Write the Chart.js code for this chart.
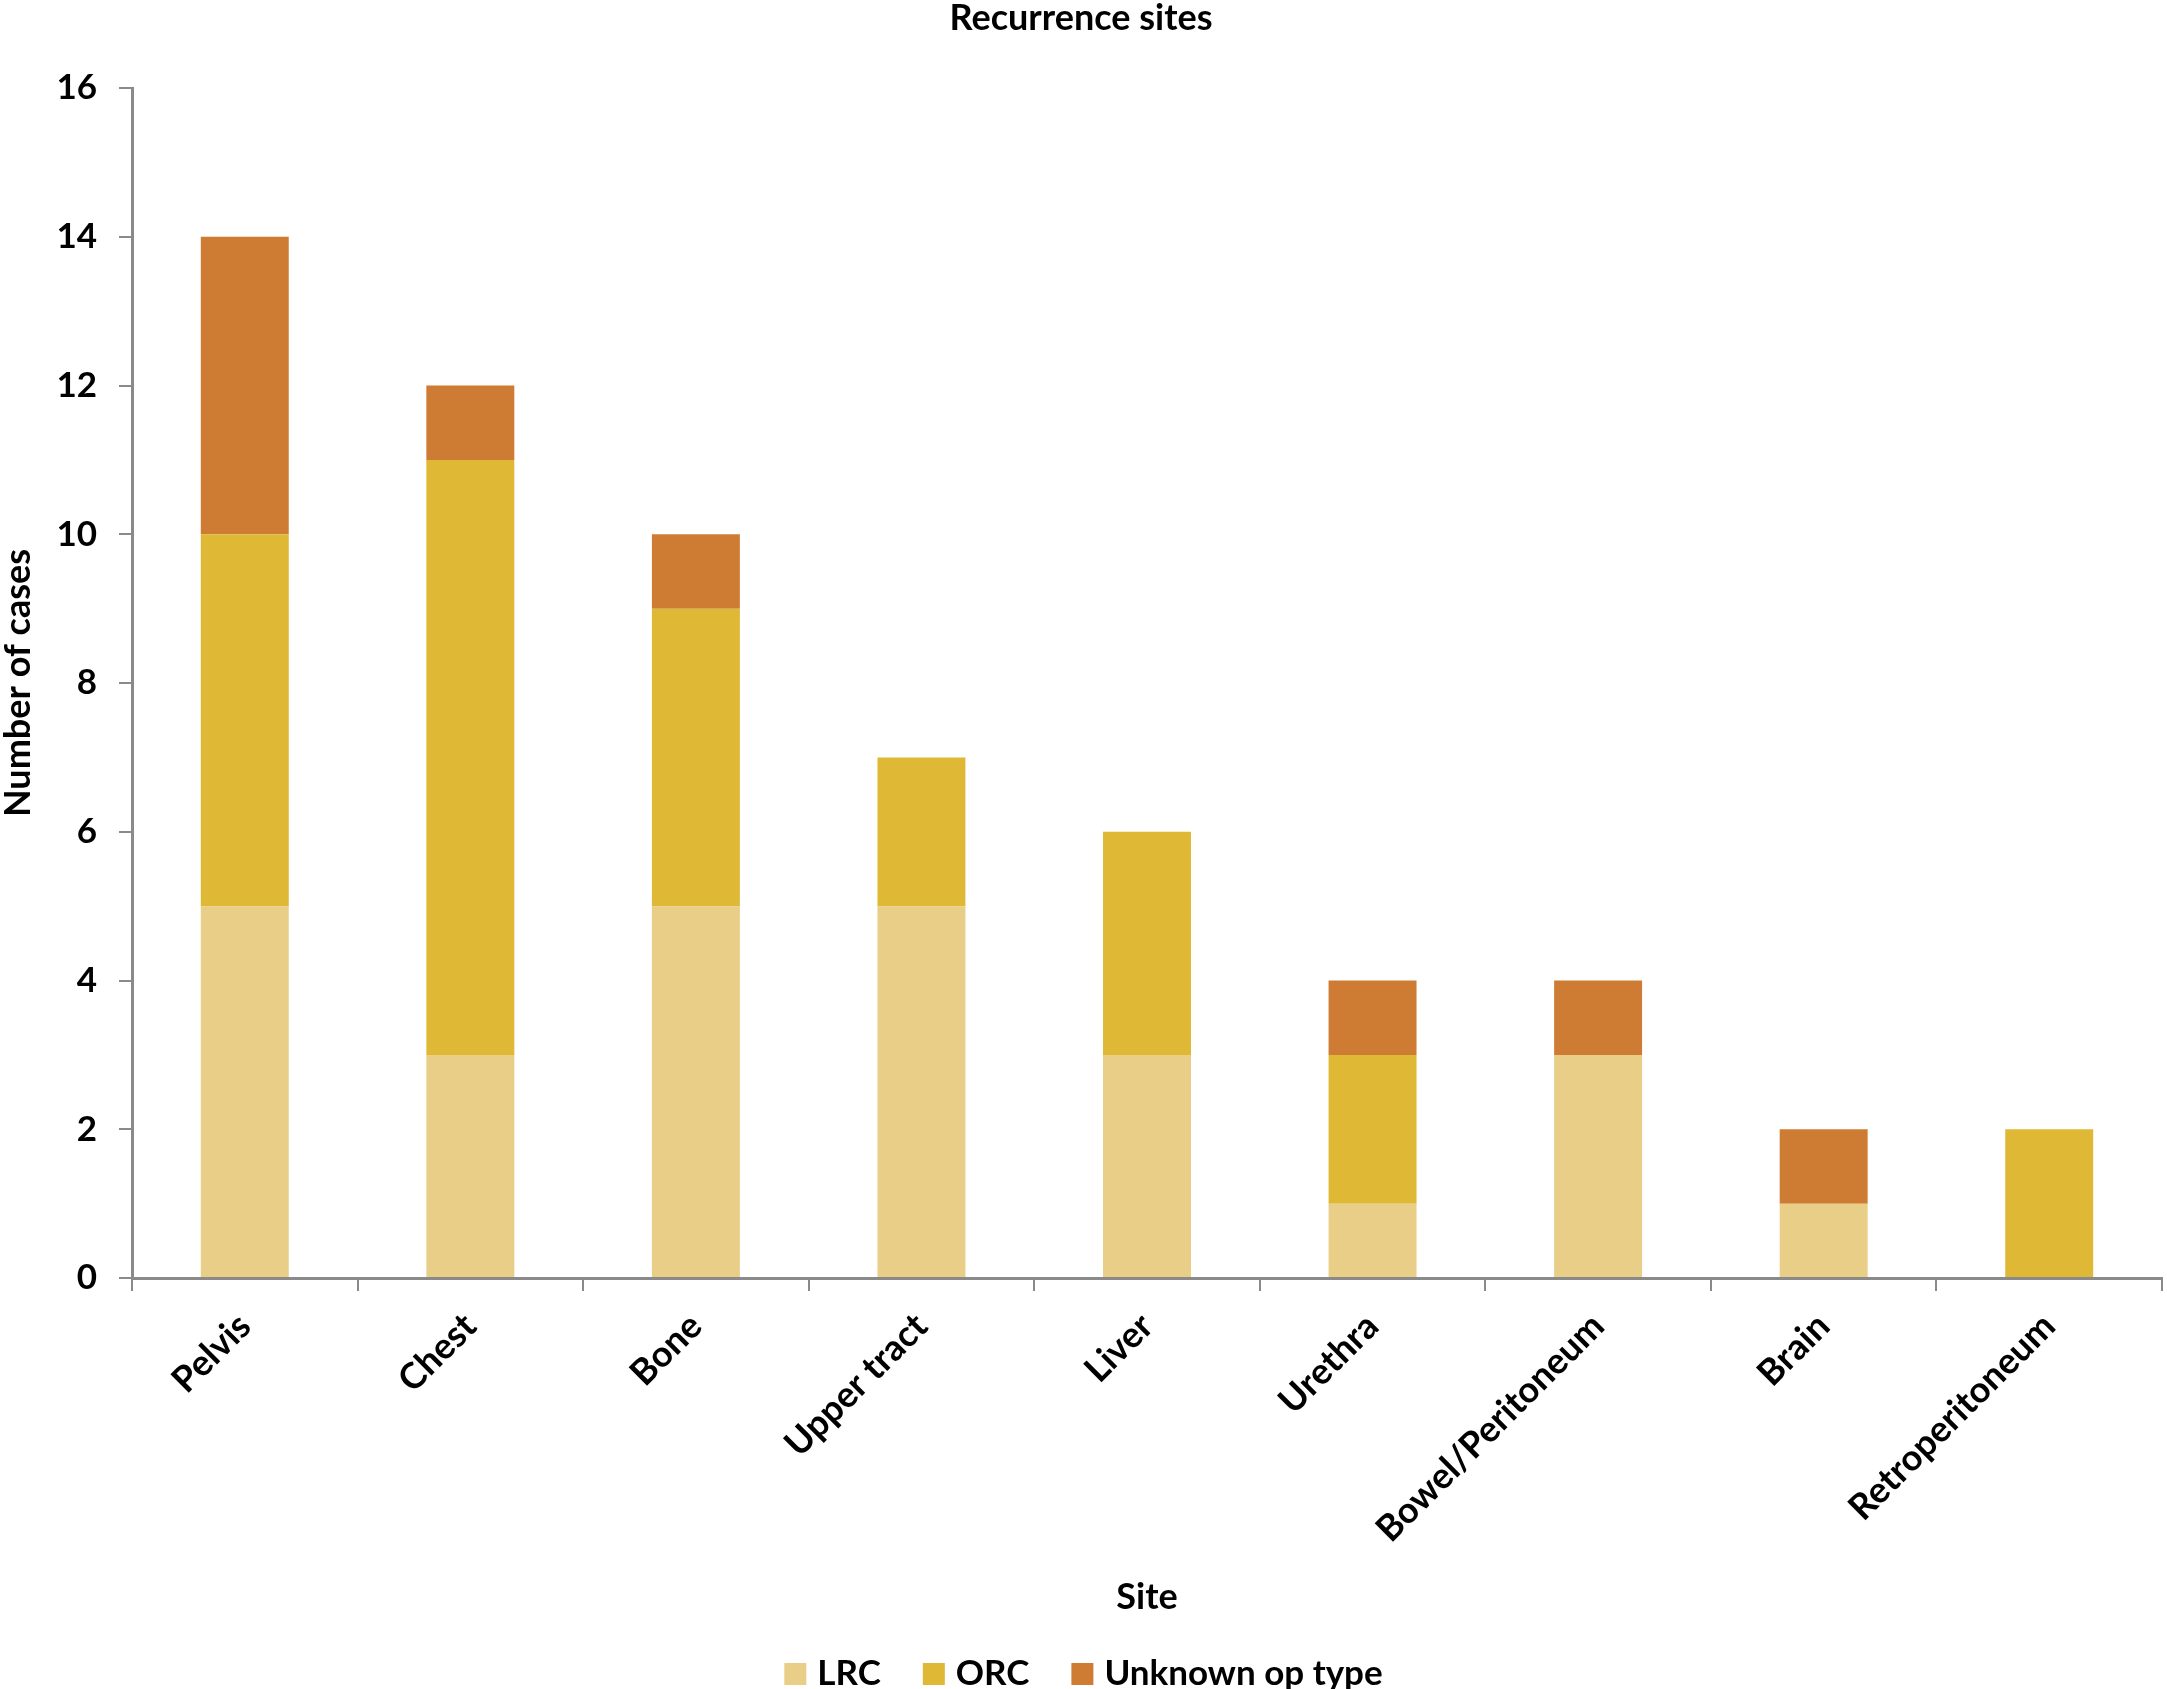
<!DOCTYPE html>
<html>
<head>
<meta charset="utf-8">
<script src="https://cdn.jsdelivr.net/npm/chart.js@4/dist/chart.umd.min.js"></script>
<style>
  html, body { margin: 0; padding: 0; background: #fff; }
  #wrap { width: 2167px; height: 1689px; }
</style>
</head>
<body>
<div id="wrap"><canvas id="chart"></canvas></div>
<script>
// Recurrence sites by operation type
const categories = ['Pelvis', 'Chest', 'Bone', 'Upper tract', 'Liver', 'Urethra', 'Bowel/Peritoneum', 'Brain', 'Retroperitoneum'];
const lrcValues = [5, 3, 5, 5, 3, 1, 3, 1, 0];
const orcValues = [5, 8, 4, 2, 3, 2, 0, 0, 2];
const unknownValues = [4, 1, 1, 0, 0, 1, 1, 1, 0];
const seriesNames = ['LRC', 'ORC', 'Unknown op type'];
const yMax = 16;
const yStep = 2;

const FONT = 'Lato';
const axisGray = '#8a8a8a';

// x-axis title and legend drawn by hand so they sit where the original has them
const overlayPlugin = {
  id: 'overlay',
  afterDraw(chart) {
    const ctx = chart.ctx;
    const area = chart.chartArea;
    ctx.save();
    ctx.font = 'bold 36px ' + FONT;
    ctx.fillStyle = '#000';
    ctx.textBaseline = 'middle';
    ctx.textAlign = 'center';
    ctx.fillText('Site', (area.left + area.right) / 2, 1597);

    // legend: square swatch, small gap, label, wide gap
    ctx.font = 'bold 35px ' + FONT;
    ctx.textAlign = 'left';
    const box = 22, textGap = 11, itemGap = 42;
    const items = chart.data.datasets.map(ds => ({
      color: ds.backgroundColor, label: ds.label, w: ctx.measureText(ds.label).width
    }));
    let total = items.reduce((s, it) => s + box + textGap + it.w, 0) + itemGap * (items.length - 1);
    let x = chart.width / 2 - total / 2;
    const cy = 1674;
    items.forEach(it => {
      ctx.fillStyle = it.color;
      ctx.fillRect(x, cy - box / 2, box, box);
      x += box + textGap;
      ctx.fillStyle = '#000';
      ctx.fillText(it.label, x, cy);
      x += it.w + itemGap;
    });
    ctx.restore();
  }
};

new Chart(document.getElementById('chart'), {
  type: 'bar',
  data: {
    labels: categories,
    datasets: [
      { label: seriesNames[0], data: lrcValues, backgroundColor: '#E9CE88' },
      { label: seriesNames[1], data: orcValues, backgroundColor: '#DFB836' },
      { label: seriesNames[2], data: unknownValues, backgroundColor: '#CE7C33' }
    ]
  },
  options: {
    responsive: true,
    maintainAspectRatio: false,
    animation: false,
    layout: { padding: { top: 0, right: 5, bottom: 0, left: 0 } },
    datasets: {
      bar: { categoryPercentage: 1.0, barPercentage: 0.39 }
    },
    scales: {
      x: {
        stacked: true,
        grid: { drawOnChartArea: false, color: axisGray, tickLength: 13, lineWidth: 2, offset: true },
        border: { color: axisGray, width: 3 },
        ticks: {
          color: '#000',
          font: { family: FONT, size: 36, weight: 'bold' },
          maxRotation: 45,
          minRotation: 45,
          padding: 14,
          autoSkip: false
        },
        afterFit(scale) { scale.height = 411; }
      },
      y: {
        stacked: true,
        min: 0,
        max: yMax,
        ticks: {
          stepSize: yStep,
          color: '#000',
          font: { family: FONT, size: 35, weight: 'bold' },
          padding: 22
        },
        grid: { drawOnChartArea: false, color: axisGray, tickLength: 13, lineWidth: 2 },
        border: { color: axisGray, width: 3 },
        title: {
          display: true,
          text: 'Number of cases',
          color: '#000',
          font: { family: FONT, size: 36, weight: 'bold', lineHeight: 1.0 },
          padding: { top: 0, bottom: 0 }
        },
        afterFit(scale) { scale.width = 132; }
      }
    },
    plugins: {
      title: {
        display: true,
        text: 'Recurrence sites',
        color: '#000',
        font: { family: FONT, size: 36, weight: 'bold', lineHeight: 1.0 },
        padding: { top: 0, bottom: 52 }
      },
      legend: { display: false },
      tooltip: { enabled: false }
    }
  },
  plugins: [overlayPlugin]
});
</script>
</body>
</html>
